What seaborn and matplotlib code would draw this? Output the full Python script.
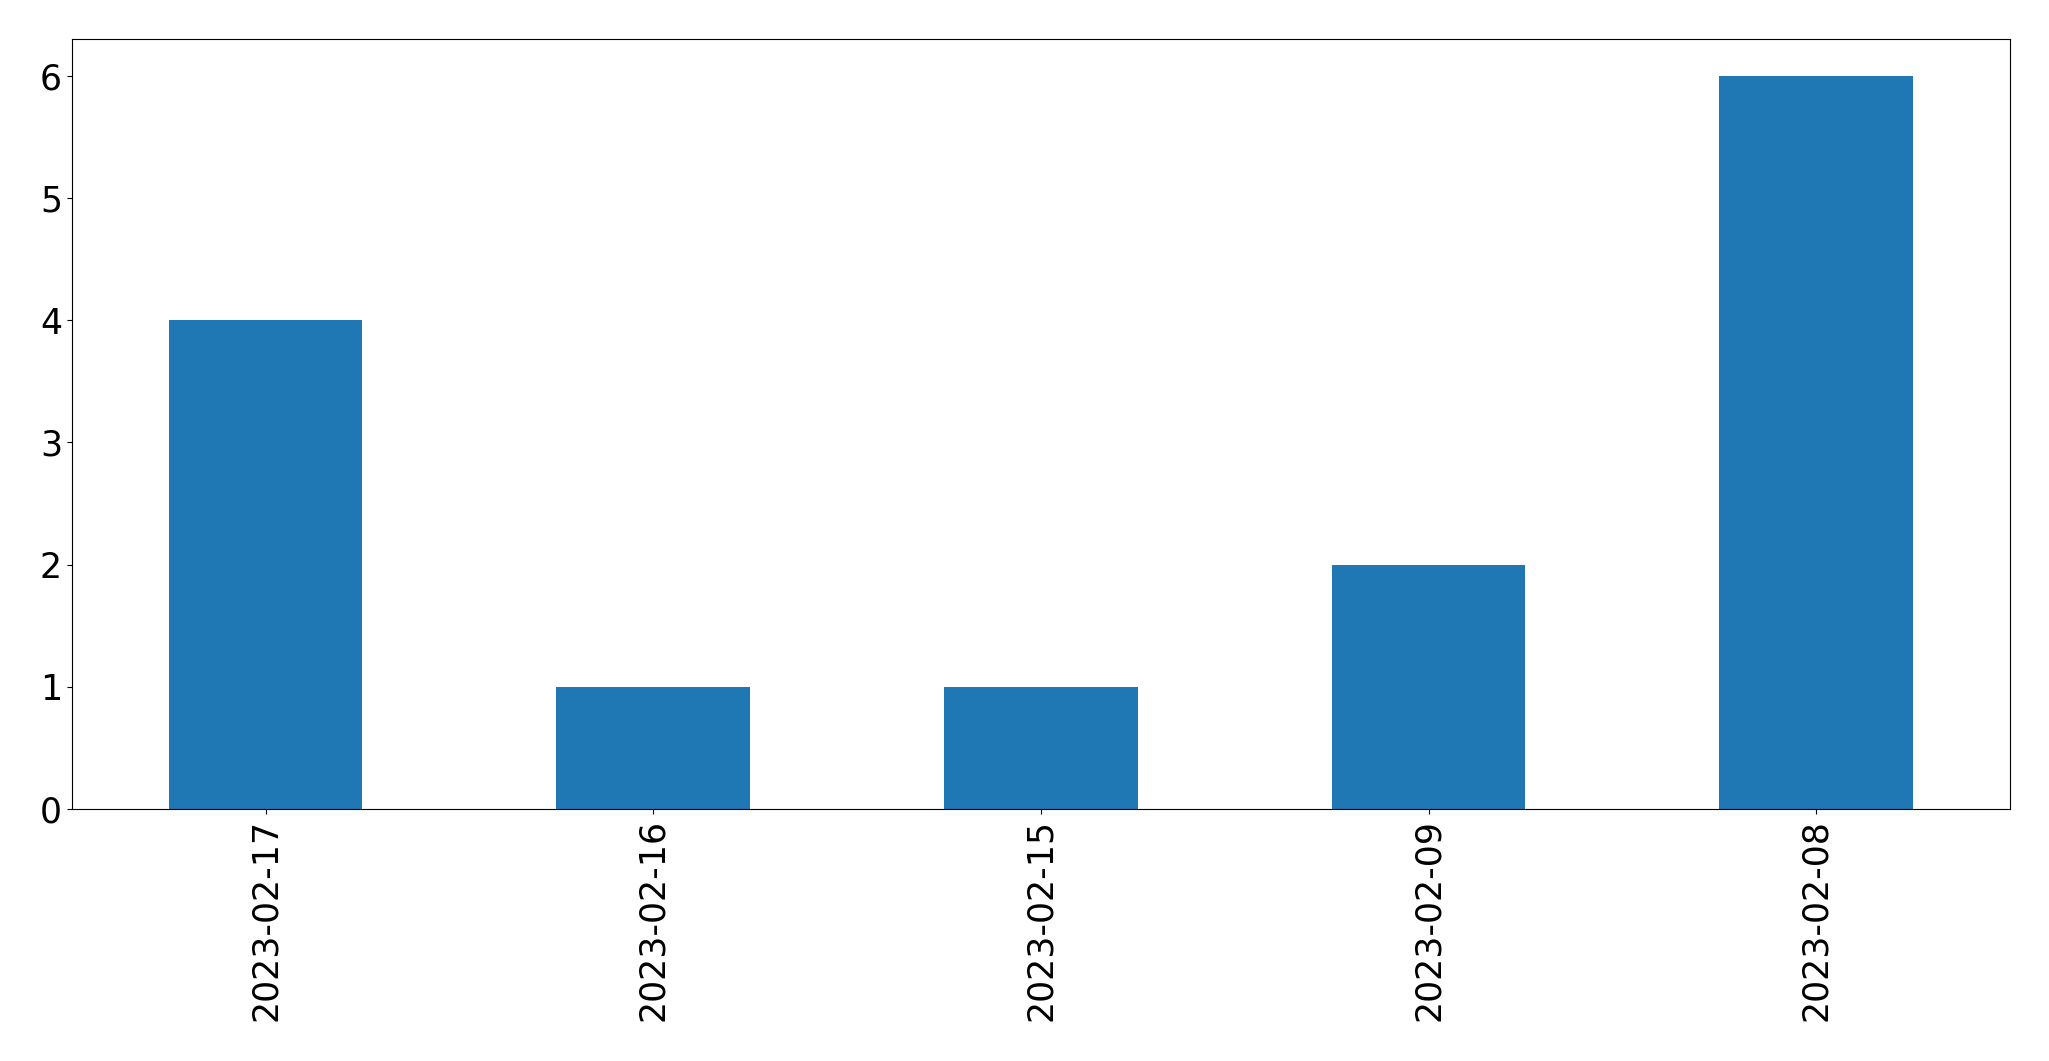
import numpy as np
import pandas as pd
import matplotlib
matplotlib.use('Agg')
import matplotlib.pyplot as plt
import seaborn as sns

# Counts per date
dates = ['2023-02-17', '2023-02-16', '2023-02-15', '2023-02-09', '2023-02-08']
counts = [4, 1, 1, 2, 6]

df = pd.DataFrame({'Datum': dates, 'Count': counts})

fig, ax = plt.subplots(figsize=(20.49, 10.61), dpi=100)
sns.barplot(x='Datum', y='Count', data=df, color='#1f77b4', saturation=1,
            width=0.5, ax=ax)

ax.set_xlim(-0.5, len(dates) - 0.5)
ax.set_ylim(0, 6.3)
ax.set_xlabel('')
ax.set_ylabel('')
ax.tick_params(axis='both', labelsize=25)
plt.setp(ax.get_xticklabels(), rotation=90)

plt.subplots_adjust(left=0.035, right=0.981, top=0.963, bottom=0.2375)
plt.savefig('out.png', dpi=100)
plt.close()
